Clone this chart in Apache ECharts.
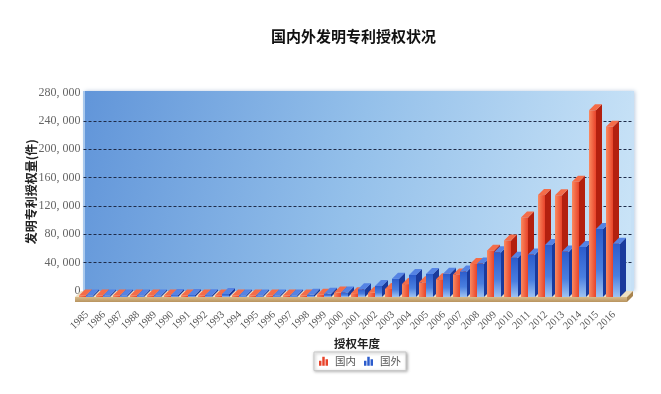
<!DOCTYPE html>
<html>
<head>
<meta charset="utf-8">
<script src="https://cdn.jsdelivr.net/npm/echarts@6/dist/echarts.min.js"></script>
<style>
html,body{margin:0;padding:0;background:#fff;}
#chart{width:661px;height:394px;}
</style>
</head>
<body>
<div id="chart"></div>
<script>
// ---- data ----
const years = ['1985','1986','1987','1988','1989','1990','1991','1992','1993','1994','1995','1996','1997','1998','1999','2000',
  '2001','2002','2003','2004','2005','2006','2007','2008','2009','2010','2011','2012','2013','2014','2015','2016'];
const domestic = [40, 60, 300, 700, 1100, 1100, 1300, 1400, 2200, 1700, 1500, 1400, 1500, 1600, 3100, 6200,
  5400, 5900, 11400, 18200, 20700, 25100, 31900, 46600, 65400, 79800, 112300, 143800, 143500, 162700, 263400, 240000];
const foreign = [10, 20, 400, 1400, 1200, 2700, 2800, 2600, 4400, 2200, 1900, 1600, 2000, 3100, 4500, 6500,
  10900, 15600, 25800, 31100, 32600, 32700, 36000, 47100, 63100, 55300, 59800, 73300, 64200, 70500, 95900, 75000];
const seriesNames = ['国内', '国外'];
const yMin = 0, yMax = 280000, yStep = 40000;

// ---- layout / style ----
const W = 7, DX = 6, DY = 6;
const G_TOP = 92.5, G_BOTTOM = 103;
const WALL_L = 83, WALL_R = 633;
const BASE_Y = 394 - G_BOTTOM;

const chart = echarts.init(document.getElementById('chart'));
const LG = echarts.graphic.LinearGradient;

const redFront = new LG(0, 0, 1, 0, [{offset:0,color:'#fa8a60'},{offset:1,color:'#e8432a'}]);
const redSide = '#b3200f', redTop = '#f46c48';
const blueFront = new LG(0, 0, 0, 1, [{offset:0,color:'#2c5ccc'},{offset:0.6,color:'#4a7fe0'},{offset:1,color:'#9ec3f2'}]);
const blueSide = '#1a3a9c', blueTop = '#5583e4';

function fmt(v){
  return String(v).replace(/\B(?=(\d{3})+(?!\d))/g, ', ');
}

function renderItem(params, api){
  const i = api.value(0);
  const base = api.coord([i, 0]);
  const cx = base[0] - 1;
  const yBase = base[1] + DY;
  const children = [];
  function cuboid(x1, v, front, side, top){
    const yTop = Math.min(api.coord([i, v])[1] + DY, yBase - 1.5);
    const x2 = x1 + W;
    children.push({type:'rect', shape:{x:x1, y:yTop, width:W, height:yBase - yTop}, style:{fill:front}});
    children.push({type:'polygon', shape:{points:[[x2,yTop],[x2+DX,yTop-DY],[x2+DX,yBase-DY],[x2,yBase]]}, style:{fill:side}});
    children.push({type:'polygon', shape:{points:[[x1,yTop],[x2,yTop],[x2+DX,yTop-DY],[x1+DX,yTop-DY]]}, style:{fill:top}});
  }
  cuboid(cx - W, api.value(1), redFront, redSide, redTop);
  cuboid(cx, api.value(2), blueFront, blueSide, blueTop);
  return {type:'group', children};
}

const barIcon = 'path://M0,6h3v6h-3z M4,1h3v11h-3z M8,4h3v8h-3z';

const option = {
  animation: false,
  backgroundColor: '#ffffff',
  title: [
    {text: '国内外发明专利授权状况', left: 271, top: 29, padding: 0,
     textStyle: {fontFamily: 'Noto Sans CJK SC', fontSize: 15, fontWeight: 'bold', color: '#111'}},
    {text: '授权年度', left: 334, top: 338, padding: 0,
     textStyle: {fontFamily: 'Noto Sans CJK SC', fontSize: 11.5, fontWeight: 'bold', color: '#222'}}
  ],
  legend: {
    data: seriesNames.map(n => ({name: n, icon: barIcon})),
    left: 314, top: 352,
    itemWidth: 9, itemHeight: 9, itemGap: 8,
    padding: [4, 5, 4, 5],
    borderColor: '#c8c8c8', borderWidth: 1, borderRadius: 0,
    backgroundColor: '#fff',
    shadowBlur: 3, shadowColor: 'rgba(0,0,0,0.35)', shadowOffsetX: 1, shadowOffsetY: 1,
    textStyle: {fontFamily: 'Noto Sans CJK SC', fontSize: 10.5, color: '#555', padding: [0,0,0,2]}
  },
  grid: [
    {left: 78.5, right: 661 - 622.5, top: G_TOP, bottom: G_BOTTOM},
    {left: WALL_L + 0.5, right: 661 - WALL_R, top: G_TOP, bottom: G_BOTTOM}
  ],
  xAxis: [
    {type: 'category', gridIndex: 0, data: years, boundaryGap: true,
     axisLine: {show: false}, axisTick: {show: false}, splitLine: {show: false},
     axisLabel: {rotate: 45, margin: 22, interval: 0, fontFamily: 'Liberation Serif', fontSize: 10.5, color: '#555'}},
    {type: 'value', gridIndex: 1, show: false}
  ],
  yAxis: [
    {type: 'value', gridIndex: 0, min: yMin, max: yMax, interval: yStep, show: false},
    {type: 'value', gridIndex: 1, min: yMin, max: yMax, interval: yStep,
     axisLine: {show: false}, axisTick: {show: false},
     axisLabel: {margin: 3, fontFamily: 'Liberation Serif', fontSize: 12, color: '#666', formatter: fmt},
     splitLine: {show: true, showMinLine: false, showMaxLine: false, lineStyle: {color: '#1e2b48', width: 1, type: [3, 2]}},
     name: '发明专利授权量(件)', nameLocation: 'middle', nameRotate: 90, nameGap: 46, nameMoveOverlap: false,
     nameTextStyle: {fontFamily: 'Noto Sans CJK SC', fontSize: 12, fontWeight: 'bold', color: '#222'}}
  ],
  graphic: [
    {type: 'rect', z: -10, silent: true,
     shape: {x: WALL_L, y: G_TOP - 1.5, width: WALL_R - WALL_L, height: BASE_Y - G_TOP + 1.5},
     style: {fill: new LG(0, 0, 1, 0.6, [{offset:0,color:'#6195d9'},{offset:0.5,color:'#94c0ea'},{offset:1,color:'#c9e3f7'}]),
             shadowBlur: 4, shadowColor: 'rgba(120,150,190,0.5)', shadowOffsetX: 2, shadowOffsetY: 0}},
    {type: 'rect', z: -9, silent: true,
     shape: {x: WALL_R - 2, y: G_TOP - 1.5, width: 3, height: BASE_Y - G_TOP + 1.5},
     style: {fill: '#c6e0f6'}},
    {type: 'rect', z: -9, silent: true,
     shape: {x: WALL_L, y: G_TOP - 1.5, width: 2, height: BASE_Y - G_TOP + 1.5},
     style: {fill: '#a9c8ec'}},
    {type: 'polygon', z: 1, silent: true,
     shape: {points: [[WALL_L - 2, BASE_Y], [WALL_R, BASE_Y], [WALL_R - DX, BASE_Y + DY], [WALL_L - 2 - DX, BASE_Y + DY]]},
     style: {fill: '#eee0c2'}},
    {type: 'rect', z: 1, silent: true,
     shape: {x: WALL_L - 2 - DX, y: BASE_Y + DY, width: WALL_R - WALL_L + 2, height: 5},
     style: {fill: new LG(0, 0, 0, 1, [{offset:0,color:'#d9bb8a'},{offset:1,color:'#b8945f'}])}},
    {type: 'polygon', z: 1, silent: true,
     shape: {points: [[WALL_R - DX, BASE_Y + DY], [WALL_R, BASE_Y], [WALL_R, BASE_Y + 5], [WALL_R - DX, BASE_Y + DY + 5]]},
     style: {fill: '#a8844f'}}
  ],
  series: [
    {type: 'custom', name: 'bars3d', xAxisIndex: 0, yAxisIndex: 0, z: 5,
     renderItem: renderItem,
     encode: {x: 0, y: [1, 2]},
     data: years.map((y, i) => [i, domestic[i], foreign[i]])},
    {type: 'bar', name: seriesNames[0], xAxisIndex: 0, yAxisIndex: 0, data: [], itemStyle: {color: '#e8432a'}},
    {type: 'bar', name: seriesNames[1], xAxisIndex: 0, yAxisIndex: 0, data: [], itemStyle: {color: '#2c5ccc'}}
  ]
};
chart.setOption(option);
</script>
</body>
</html>
